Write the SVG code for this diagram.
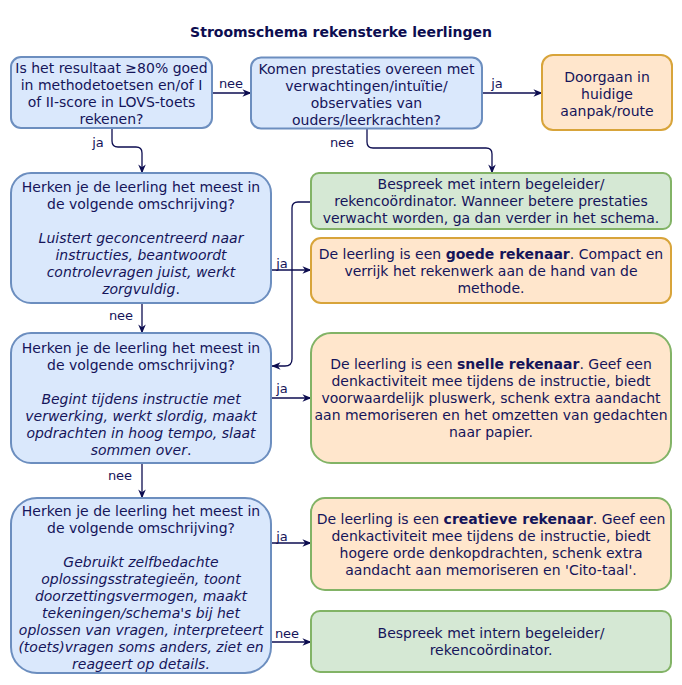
<svg xmlns="http://www.w3.org/2000/svg" width="682" height="685" viewBox="0 0 682 685">
<defs>
<style>
text{font-family:"DejaVu Sans","Verdana",sans-serif;font-size:14px;fill:#15155a;text-anchor:middle}
.title{font-weight:bold;fill:#0d0d50}
.lbl{font-size:13px}
.b{font-weight:bold}
.it{font-style:italic}
.blue{fill:#dae8fc;stroke:#6c8ebf;stroke-width:2}
.orange{fill:#ffe6cc;stroke:#d8a43a;stroke-width:2}
.green{fill:#d5e8d4;stroke:#82b366;stroke-width:2}
.og{fill:#ffe6cc;stroke:#82b366;stroke-width:2}
.edge{fill:none;stroke:#0d0d50;stroke-width:1.3;marker-end:url(#arr)}
</style>
<marker id="arr" viewBox="0 0 10 10" refX="9.5" refY="5" markerWidth="9" markerHeight="9" markerUnits="userSpaceOnUse" orient="auto">
<path d="M0,0.8 L10,5 L0,9.2 L3,5 Z" fill="#0d0d50"/>
</marker>
</defs>
<rect width="682" height="685" fill="#ffffff"/>
<text class="title" x="341" y="37">Stroomschema rekensterke leerlingen</text>

<g id="connectors">
<path class="edge" d="M212,93 H251"/>
<text class="lbl" x="231" y="88">nee</text>
<path class="edge" d="M482,93 H542"/>
<text class="lbl" x="497" y="88">ja</text>
<path class="edge" d="M112,128 V141 Q112,147 118,147 H136 Q142,147 142,153 V173"/>
<text class="lbl" x="98" y="147">ja</text>
<path class="edge" d="M367,129 V142 Q367,148 373,148 H486 Q492,148 492,154 V173"/>
<text class="lbl" x="342" y="147">nee</text>
<path class="edge" d="M271,270 H311"/>
<text class="lbl" x="282" y="268">ja</text>
<path class="edge" d="M311,202 H298 Q292,202 292,208 V359 Q292,366 285,366 H272"/>
<path class="edge" d="M142,303 V333"/>
<text class="lbl" x="121" y="320">nee</text>
<path class="edge" d="M271,398 H311"/>
<text class="lbl" x="282" y="393">ja</text>
<path class="edge" d="M142,463 V498"/>
<text class="lbl" x="120" y="480">nee</text>
<path class="edge" d="M271,543 H311"/>
<text class="lbl" x="282" y="541">ja</text>
<path class="edge" d="M271,642 H311"/>
<text class="lbl" x="287" y="638">nee</text>
</g>

<g id="n1">
<rect class="blue" x="11" y="57" width="201" height="71" rx="10" ry="10"/>
<text x="111.5" y="73">Is het resultaat ≥80% goed</text>
<text x="111.5" y="90">in methodetoetsen en/of I</text>
<text x="111.5" y="107">of II-score in LOVS-toets</text>
<text x="111.5" y="124">rekenen?</text>
</g>
<g id="n2">
<rect class="blue" x="251" y="57.5" width="231" height="71" rx="10" ry="10"/>
<text x="366.5" y="73.5">Komen prestaties overeen met</text>
<text x="366.5" y="90.5">verwachtingen/intuïtie/</text>
<text x="366.5" y="107.5">observaties van</text>
<text x="366.5" y="124.5">ouders/leerkrachten?</text>
</g>
<g id="n3">
<rect class="orange" x="542" y="55" width="130" height="75" rx="11" ry="11"/>
<text x="607" y="81.5">Doorgaan in</text>
<text x="607" y="98.5">huidige</text>
<text x="607" y="115.5">aanpak/route</text>
</g>
<g id="n4">
<rect class="blue" x="11" y="173" width="260" height="130" rx="20" ry="20"/>
<text x="141" y="192">Herken je de leerling het meest in</text>
<text x="141" y="209">de volgende omschrijving?</text>
<text class="it" x="141" y="243">Luistert geconcentreerd naar</text>
<text class="it" x="141" y="260">instructies, beantwoordt</text>
<text class="it" x="141" y="277">controlevragen juist, werkt</text>
<text x="141" y="294"><tspan class="it">zorgvuldig</tspan>.</text>
</g>
<g id="n5">
<rect class="green" x="311" y="173" width="360" height="56" rx="8" ry="8"/>
<text x="491" y="189">Bespreek met intern begeleider/</text>
<text x="491" y="206">rekencoördinator. Wanneer betere prestaties</text>
<text x="491" y="223">verwacht worden, ga dan verder in het schema.</text>
</g>
<g id="n6">
<rect class="orange" x="311" y="238" width="360" height="65" rx="10" ry="10"/>
<text x="491" y="259">De leerling is een <tspan class="b">goede rekenaar</tspan>. Compact en</text>
<text x="491" y="276">verrijk het rekenwerk aan de hand van de</text>
<text x="491" y="293">methode.</text>
</g>
<g id="n7">
<rect class="blue" x="11" y="333" width="260" height="130" rx="20" ry="20"/>
<text x="141" y="353">Herken je de leerling het meest in</text>
<text x="141" y="370">de volgende omschrijving?</text>
<text class="it" x="141" y="404">Begint tijdens instructie met</text>
<text class="it" x="141" y="421">verwerking, werkt slordig, maakt</text>
<text class="it" x="141" y="438">opdrachten in hoog tempo, slaat</text>
<text x="141" y="455"><tspan class="it">sommen over</tspan>.</text>
</g>
<g id="n8">
<rect class="og" x="311" y="333" width="360" height="130" rx="20" ry="20"/>
<text x="491" y="369">De leerling is een <tspan class="b">snelle rekenaar</tspan>. Geef een</text>
<text x="491" y="386">denkactiviteit mee tijdens de instructie, biedt</text>
<text x="491" y="403">voorwaardelijk pluswerk, schenk extra aandacht</text>
<text x="491" y="420">aan memoriseren en het omzetten van gedachten</text>
<text x="491" y="437">naar papier.</text>
</g>
<g id="n9">
<rect class="blue" x="11" y="498" width="260" height="175" rx="26" ry="26"/>
<text x="141" y="516">Herken je de leerling het meest in</text>
<text x="141" y="533">de volgende omschrijving?</text>
<text class="it" x="141" y="567">Gebruikt zelfbedachte</text>
<text class="it" x="141" y="584">oplossingsstrategieën, toont</text>
<text class="it" x="141" y="601">doorzettingsvermogen, maakt</text>
<text class="it" x="141" y="618">tekeningen/schema's bij het</text>
<text class="it" x="141" y="635">oplossen van vragen, interpreteert</text>
<text class="it" x="141" y="652">(toets)vragen soms anders, ziet en</text>
<text class="it" x="141" y="669">reageert op details.</text>
</g>
<g id="n10">
<rect class="og" x="311" y="498" width="360" height="92" rx="14" ry="14"/>
<text x="491" y="524">De leerling is een <tspan class="b">creatieve rekenaar</tspan>. Geef een</text>
<text x="491" y="541">denkactiviteit mee tijdens de instructie, biedt</text>
<text x="491" y="558">hogere orde denkopdrachten, schenk extra</text>
<text x="491" y="575">aandacht aan memoriseren en 'Cito-taal'.</text>
</g>
<g id="n11">
<rect class="green" x="311" y="611" width="360" height="61" rx="9" ry="9"/>
<text x="491" y="638">Bespreek met intern begeleider/</text>
<text x="491" y="655">rekencoördinator.</text>
</g>
</svg>
